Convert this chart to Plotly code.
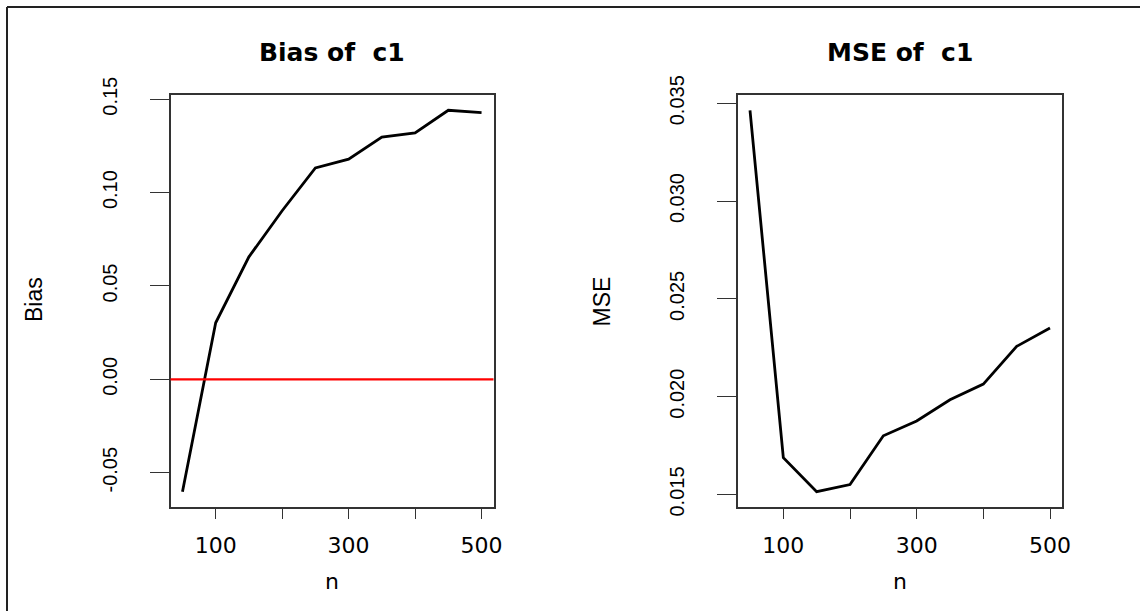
import plotly.graph_objects as go

# ---- data ----
n_values = [50, 100, 150, 200, 250, 300, 350, 400, 450, 500]
bias_values = [-0.0602, 0.0303, 0.0656, 0.0903, 0.1132, 0.1179, 0.1297, 0.1320, 0.1441, 0.1428]
mse_values = [0.03464, 0.01688, 0.01514, 0.01551, 0.0180, 0.01876, 0.01984, 0.02064, 0.02257, 0.02351]
reference_level = 0.0

x_tick_vals = [100, 200, 300, 400, 500]
x_tick_text = ["100", "", "300", "", "500"]
bias_tick_vals = [-0.05, 0.00, 0.05, 0.10, 0.15]
bias_tick_text = ["-0.05", "0.00", "0.05", "0.10", "0.15"]
mse_tick_vals = [0.015, 0.020, 0.025, 0.030, 0.035]
mse_tick_text = ["0.015", "0.020", "0.025", "0.030", "0.035"]

titles = ["Bias of \u00a0c1", "MSE of \u00a0c1"]
x_label = "n"
y_labels = ["Bias", "MSE"]


def r_range(vals):
    lo, hi = min(vals), max(vals)
    pad = 0.04 * (hi - lo)
    return [lo - pad, hi + pad]


W, H = 1140, 611
def px(x):
    return x / W
def py(y):
    return 1 - y / H

x_dom1 = [px(170.5), px(493.5)]
x_dom2 = [px(738), px(1062)]
y_dom = [py(507), py(95)]

fig = go.Figure()
fig.add_trace(go.Scatter(x=n_values, y=bias_values, mode="lines",
                         line=dict(color="black", width=2.8),
                         xaxis="x", yaxis="y", showlegend=False, hoverinfo="skip"))
fig.add_trace(go.Scatter(x=n_values, y=mse_values, mode="lines",
                         line=dict(color="black", width=2.8),
                         xaxis="x2", yaxis="y2", showlegend=False, hoverinfo="skip"))

tick_font_x = dict(family="DejaVu Sans", size=22, color="black")
tick_font_y = dict(family="Liberation Sans Narrow, Arial Narrow, Liberation Sans", size=20, color="black")

common_x = dict(showline=True, mirror=True, linecolor="#333", linewidth=1.6,
                ticks="outside", ticklen=10, tickwidth=1.3, tickcolor="#333",
                showgrid=False, zeroline=False, tickvals=x_tick_vals, ticktext=x_tick_text,
                tickfont=tick_font_x, tickangle=0, automargin=False, ticklabelstandoff=8)
common_y = dict(showline=True, mirror=True, linecolor="#333", linewidth=1.6,
                ticks="outside", ticklen=19, tickwidth=1.3, tickcolor="#333",
                showgrid=False, zeroline=False, tickfont=tick_font_y, tickangle=-90,
                automargin=False, ticklabelstandoff=25)

n_range = r_range(n_values)
fig.update_layout(
    width=W, height=H,
    margin=dict(l=0, r=0, t=0, b=0),
    paper_bgcolor="white", plot_bgcolor="white",
    xaxis=dict(domain=x_dom1, range=n_range, anchor="y", **common_x),
    yaxis=dict(domain=y_dom, range=r_range(bias_values), anchor="x",
               tickvals=bias_tick_vals, ticktext=bias_tick_text, **common_y),
    xaxis2=dict(domain=x_dom2, range=n_range, anchor="y2", **common_x),
    yaxis2=dict(domain=y_dom, range=r_range(mse_values), anchor="x2",
                tickvals=mse_tick_vals, ticktext=mse_tick_text, **common_y),
)

# red reference line across the full left box
fig.add_shape(type="line", xref="x domain", yref="y", x0=0, x1=1,
              y0=reference_level, y1=reference_level,
              line=dict(color="#ff0000", width=2.2))

# outer frame lines (top and left)
fig.add_shape(type="line", xref="paper", yref="paper", x0=px(7), x1=1, y0=py(7), y1=py(7),
              line=dict(color="#222", width=2))
fig.add_shape(type="line", xref="paper", yref="paper", x0=px(7), x1=px(7), y0=0, y1=py(7),
              line=dict(color="#222", width=2))

title_font = dict(family="DejaVu Sans", size=25, color="black", weight="bold")
label_font_x = dict(family="DejaVu Sans", size=22, color="black")
label_font_y = dict(family="Liberation Sans Narrow, Arial Narrow, Liberation Sans", size=23, color="black")

for i, dom in enumerate([x_dom1, x_dom2]):
    cx = (dom[0] + dom[1]) / 2
    fig.add_annotation(text=titles[i], xref="paper", yref="paper", x=cx, y=py(53),
                       xanchor="center", yanchor="middle", showarrow=False, font=title_font)
    fig.add_annotation(text=x_label, xref="paper", yref="paper", x=cx, y=py(581),
                       xanchor="center", yanchor="middle", showarrow=False, font=label_font_x)

fig.add_annotation(text=y_labels[0], xref="paper", yref="paper", x=px(34), y=py(300),
                   xanchor="center", yanchor="middle", showarrow=False, textangle=-90,
                   font=label_font_y)
fig.add_annotation(text=y_labels[1], xref="paper", yref="paper", x=px(601.5), y=py(302),
                   xanchor="center", yanchor="middle", showarrow=False, textangle=-90,
                   font=label_font_y)

fig.write_html("out.html")
